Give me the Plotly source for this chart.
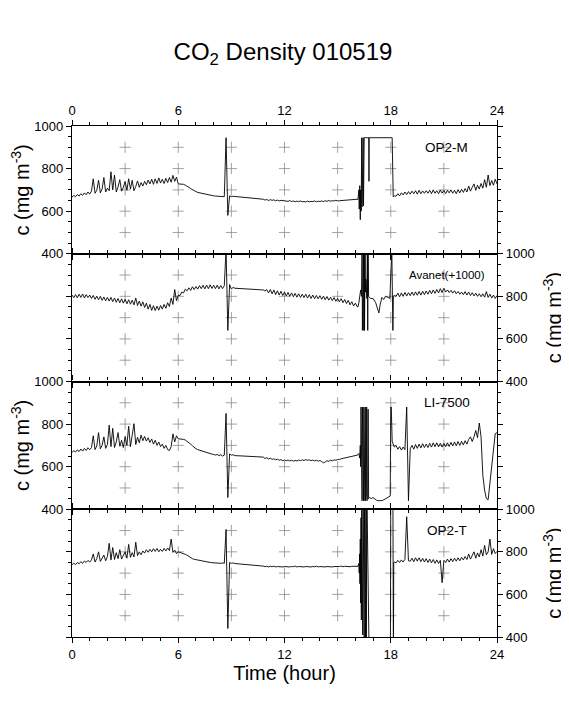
import numpy as np
import plotly.graph_objects as go
from plotly.subplots import make_subplots

FONT = "Liberation Sans, Arial, Helvetica, sans-serif"
N = None  # missing sample (gap is bridged by a straight line)

# sample times (hour) for the regular parts of the record
hours_am = np.round(np.arange(0, 16.15, 0.1), 1)   # 0.0 .. 16.1
hours_pm = np.round(np.arange(18.3, 24.05, 0.1), 1)  # 18.3 .. 24.0

# ---- OP2-M ----
op2m_am = [666, 674, 668, 678, 671, 682, 674, 686, 677, 690, 680,
           694, 752, 684, 698, 745, 686, 704, 758, 690, 708,
           696, 785, 700, 770, 690, 714, 748, 694, 712, 740,
           698, 752, 704, 745, 696, 716, 742, 712, 734, 718,
           740, 724, 746, 728, 750, 726, 752, 730, 756, 732,
           750, 730, 754, 734, 758, 736, 768, 740, 760, 728,
           728, 727, 726, 722, 718, 712, 706, 700, 696, 692,
           688, 686, 683, 682, 679, 678, 676, 675, 673, 672,
           671, 670, 668, 669, 667, 668, 945, 580, 672, 668,
           670, 669, N, N, N, N, N, N, N, N,
           N, N, N, N, N, N, N, 656, 652, 655,
           650, 654, 651, 653, 649, 652, 648, 651, 650, 647,
           649, 646, 650, 645, 648, 644, 647, 645, 648, 644,
           646, 643, 647, 644, 646, 645, 648, 644, 647, 645,
           648, 645, 649, 646, 650, 647, 649, 648, 651, 648,
           649, 650, N, N, N, N, N, N, N, N,
           656]
op2m_burst_h = [16.15, 16.2, 16.22, 16.25, 16.28, 16.3, 16.33, 16.36, 16.38, 16.4,
                16.42, 16.44, 16.46, 16.48, 16.5, 16.76, 16.77, 16.78, 18.08, 18.1,
                18.12, 18.14, 18.2]
op2m_burst = [655, 700, 610, 720, 560, 700, 600, 945, 620, 945,
              630, 945, 625, 945, 945, 945, 740, 945, 945, 670,
              945, 668, 672]
op2m_pm = [670, 682, 672, 686, 676, 690, 678, 692,
           680, 694, 682, 696, 680, 698, 682, 695, 684, 696,
           684, 698, 682, 700, 684, 696, 682, 699, 685, 697,
           683, 697, 686, 700, 684, 698, 682, 701, 686, 703,
           688, 706, 690, 718, 694, 712, 728, 698, 722, 704,
           730, 708, 748, 712, 770, 720, 744, 722, 750, 728]

# ---- Avanet (+1000) ----
avanet_am = [806, 794, 808, 793, 810, 795, 811, 792, 808, 794, 806,
             790, 804, 786, 801, 784, 800, 781, 797, 779, 795,
             778, 795, 775, 792, 772, 790, 770, 788, 768, 786,
             765, 784, 763, 782, 760, 792, 757, 778, 754, 774,
             748, 768, 740, 762, 734, 756, 733, 754, 735, 757,
             740, 762, 744, 770, 752, 792, 762, 832, 780, 805,
             804, 820, 816, 834, 826, 840, 828, 845, 832, 846,
             834, 850, 836, 852, 835, 853, 836, 854, 837, 852,
             836, 852, 835, 851, 836, 850, 1020, 640, 855, 834,
             842, 838, N, N, N, N, N, N, N, N,
             N, N, N, N, N, N, N, 830, 825, 832,
             816, 832, 812, 830, 808, 826, 806, 824, 804, 820,
             802, 818, 800, 816, 798, 814, 796, 812, 795, 810,
             794, 810, 792, 808, 790, 806, 789, 804, 788, 803,
             786, 801, 784, 799, 782, 796, 780, 794, 777, 790,
             774, 789, 770, 785, 766, 781, 760, 775, 755, 768,
             752]
avanet_burst_h = [16.15, 16.2, 16.25, 16.3, 16.35, 16.38, 16.4, 16.42, 16.44, 16.46,
                  16.48, 16.5, 16.52, 16.55, 16.57, 16.6, 16.65, 16.68, 16.7, 16.72,
                  16.75, 16.85, 17.0, 17.15, 17.25, 17.33, 17.4, 17.5, 17.6, 17.7,
                  17.85, 17.95, 18.06, 18.08, 18.1, 18.12, 18.15, 18.2]
avanet_burst = [750, 770, 800, 830, 800, 1020, 640, 1020, 640, 1020,
                640, 1020, 640, 1020, 820, 880, 790, 1020, 640, 1020,
                800, 790, 790, 770, 745, 722, 760, 795, 785, 800,
                795, 790, 1020, 640, 1020, 640, 800, 805]
avanet_pm = [800, 815, 798, 816, 800, 818, 802, 817,
             803, 820, 804, 821, 805, 823, 806, 824, 808, 825,
             810, 828, 812, 830, 814, 832, 816, 836, 818, 838,
             820, 830, 818, 828, 815, 826, 812, 823, 810, 820,
             808, 822, 806, 820, 804, 817, 802, 815, 800, 812,
             798, 812, 796, 822, 795, 810, 792, 806, 790, 804]

# ---- LI-7500 ----
li7500_am = [667, 675, 669, 679, 671, 683, 673, 686, 676, 689, 680,
             690, 745, 680, 698, 760, 684, 700, 740, 686, 704,
             795, 694, 780, 690, 716, 760, 696, 724, 690, 742,
             700, 790, 694, 748, 802, 704, 738, 712, 748, 722,
             742, 720, 736, 714, 730, 706, 724, 700, 716, 694,
             706, 686, 700, 680, 676, 694, 754, 716, 745, 731,
             731, 730, 728, 725, 720, 714, 706, 698, 690, 684,
             680, 677, 674, 672, 669, 666, 663, 661, 659, 657,
             655, 657, 652, 656, 650, 654, 850, 455, 660, 654,
             656, 652, N, N, N, N, N, N, N, N,
             N, N, N, N, N, N, N, 645, 638, 642,
             636, 640, 634, 637, 632, 635, 630, 633, 628, 631,
             628, 631, 627, 630, 626, 629, 627, 631, 628, 632,
             629, 633, 630, 632, 628, 631, 627, 630, 626, 629,
             624, 618, 622, 628, 625, 630, 627, 632, 630, 634,
             634, 637, N, N, N, N, N, N, N, N,
             654]
li7500_burst_h = [16.15, 16.2, 16.25, 16.28, 16.3,
                  16.32, 16.34, 16.36, 16.38, 16.4, 16.42, 16.44, 16.46, 16.48, 16.5,
                  16.52, 16.54, 16.56, 16.58, 16.6, 16.62, 16.64, 16.66, 16.68, 16.7, 16.72,
                  16.75, 16.8, 16.9,
                  17.0, 17.1, 17.2, 17.3, 17.4, 17.5, 17.6, 17.7, 17.8, 17.9,
                  17.97, 18.0, 18.03, 18.08, 18.15, 18.2]
li7500_burst = [656, 662, 640, 700, 600,
                880, 440, 880, 440, 880, 440, 880, 440, 880, 440,
                880, 440, 880, 440, 880, 460, 880, 440, 860, 445, 870,
                450, 455, 450,
                455, 448, 442, 440, 440, 441, 444, 448, 452, 456,
                462, 880, 880, 720, 700, 692]
li7500_pm = [700, 682, 694, 678, 692, 680, 880, 440,
             684, 700, 682, 704, 686, 706, 688, 708, 690, 706,
             690, 710, 692, 712, 694, 712, 693, 710, 692, 709,
             694, 712, 695, 714, 697, 716, 698, 718, 700, 719,
             702, 722, 706, 728, 740, 718, 740, 770, 736, 805,
             740, 560, 490, 450, 445, 520, 620, 700, 755, 760]

# ---- OP2-T ----
op2t_am = [739, 747, 740, 750, 744, 754, 746, 757, 750, 760, 752,
           762, 790, 752, 768, 800, 755, 774, 785, 758, 778,
           840, 762, 820, 764, 796, 768, 810, 766, 784, 800,
           770, 835, 774, 796, 776, 845, 782, 800, 786, 804,
           794, 810, 798, 812, 800, 815, 802, 816, 800, 812,
           802, 816, 804, 818, 806, 860, 798, 808, 792, 800,
           797, 795, 792, 788, 784, 778, 772, 768, 765, 763,
           761, 759, 757, 756, 754, 753, 751, 750, 749, 748,
           749, 747, 748, 746, 748, 746, 905, 440, 750, 746,
           748, 745, N, N, N, N, N, N, N, N,
           N, N, N, N, N, N, N, 733, 730, 732,
           729, 732, 730, 733, 729, 731, 730, 732, 729, 731,
           730, 732, 729, 731, 730, 733, 729, 731, 730, 732,
           729, 731, 730, 732, 729, 731, 730, 733, 729, 731,
           730, 732, 729, 731, 730, 732, 729, 731, 730, 732,
           731, 733, 730, 732, 731, 733, 730, 732, 731, 733,
           732]
op2t_burst_h = [16.15, 16.2,
                16.22, 16.24, 16.26, 16.28, 16.3, 16.32, 16.34, 16.36, 16.38, 16.4,
                16.42, 16.44, 16.46, 16.48, 16.5, 16.52, 16.54, 16.56, 16.58, 16.6, 16.62,
                16.65, 16.78, 17.98, 18.0, 18.12, 18.13, 18.15, 18.17, 18.2]
op2t_burst = [732, 745,
              700, 790, 650, 860, 560, 960, 480, 1050, 420, 1050,
              410, 1050, 400, 1050, 380, 1050, 380, 1050, 380, 1050, 380,
              1100, 300, 300, 1100, 1100, 300, 300, 750, 752]
op2t_pm = [748, 760, 750, 762, 752, 764, 965, 758,
           756, 770, 754, 772, 756, 772, 754, 770, 752, 768,
           750, 766, 748, 764, 746, 762, 745, 760, 655, 760,
           750, 766, 752, 768, 754, 770, 756, 772, 758, 774,
           762, 778, 764, 790, 766, 784, 800, 770, 795, 776,
           810, 780, 830, 786, 800, 860, 788, 815, 792, 802]

names = ["OP2-M", "Avanet(+1000)", "LI-7500", "OP2-T"]
y_sides = ["left", "right", "left", "right"]
label_size = [13.5, 11.5, 13.5, 13.5]
grid_hours = [3, 6, 9, 12, 15, 18, 21]
grid_values = [500, 600, 700, 800, 900]

series = [
    (op2m_am, op2m_burst_h, op2m_burst, op2m_pm),
    (avanet_am, avanet_burst_h, avanet_burst, avanet_pm),
    (li7500_am, li7500_burst_h, li7500_burst, li7500_pm),
    (op2t_am, op2t_burst_h, op2t_burst, op2t_pm),
]

fig = make_subplots(rows=4, cols=1, vertical_spacing=0)

gx, gy = np.meshgrid(grid_hours, grid_values)
for i, (am, bh, bv, pm) in enumerate(series):
    row = i + 1
    assert len(am) == len(hours_am) and len(pm) == len(hours_pm) and len(bh) == len(bv)
    x = list(hours_am) + bh + list(hours_pm)
    y = am + bv + pm
    # "+" grid marks
    fig.add_trace(go.Scatter(x=gx.ravel(), y=gy.ravel(), mode="markers",
                             marker=dict(symbol="cross-thin", size=8,
                                         line=dict(color="#8c8c8c", width=0.8)),
                             hoverinfo="skip", showlegend=False), row=row, col=1)
    fig.add_trace(go.Scatter(x=x, y=y, mode="lines", connectgaps=True,
                             line=dict(color="black", width=0.9),
                             showlegend=False), row=row, col=1)
    fig.add_annotation(x=21.15, y=900, xref=f"x{row}" if row > 1 else "x",
                       yref=f"y{row}" if row > 1 else "y", text=names[i],
                       showarrow=False, font=dict(family=FONT, size=label_size[i], color="black"))

    fig.update_xaxes(range=[0, 24], tickvals=[0, 6, 12, 18, 24], ticks="outside",
                     ticklen=5, tickwidth=1, tickcolor="black",
                     minor=dict(dtick=1, ticklen=3, ticks="outside", tickcolor="black"),
                     showline=True, linecolor="black", linewidth=1.3, mirror="ticks",
                     showgrid=False, zeroline=False, automargin=False,
                     showticklabels=(row in (1, 4)), side="top" if row == 1 else "bottom",
                     tickfont=dict(family=FONT, size=13, color="black"),
                     row=row, col=1)
    fig.update_yaxes(range=[400, 1000], tickvals=[400, 600, 800, 1000], ticks="outside",
                     ticklen=5, tickwidth=1, tickcolor="black",
                     minor=dict(dtick=50, ticklen=3, ticks="outside", tickcolor="black"),
                     showline=True, linecolor="black", linewidth=1.3, mirror="ticks",
                     showgrid=False, zeroline=False, side=y_sides[i], automargin=False,
                     tickfont=dict(family=FONT, size=13, color="black"),
                     title=dict(text="c (mg m<sup>-3</sup>)", standoff=13,
                                font=dict(family=FONT, size=20, color="black")),
                     row=row, col=1)

fig.update_xaxes(title=dict(text="Time (hour)", standoff=4,
                            font=dict(family=FONT, size=20, color="black")),
                 row=4, col=1)

# the page body adds an 8 px offset, so the figure is 8 px smaller than the window
fig.update_layout(
    width=561, height=701,
    margin=dict(l=64, r=72, t=118, b=72, autoexpand=False),
    title=dict(text="CO<sub>2</sub> Density 010519", x=(283 - 8) / 561, xanchor="center",
               yref="container", y=1 - 44 / 701, yanchor="middle",
               font=dict(family=FONT, size=24, color="black")),
    plot_bgcolor="white", paper_bgcolor="white",
    showlegend=False,
)

fig.write_html("out.html")
